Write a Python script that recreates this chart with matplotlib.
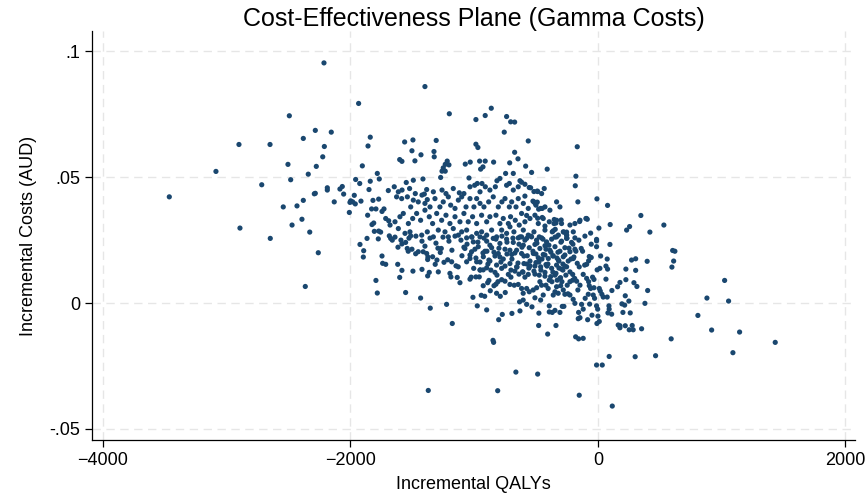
import numpy as np
import matplotlib
matplotlib.use("Agg")
import matplotlib.pyplot as plt

# Incremental QALYs (x) and incremental costs in AUD (y)
west_pts = [
    (-2214, .0954), (-1934, .0793), (-2494, .0744), (-2284, .0686), (-2155, .0679), (-2381, .0654),
    (-2901, .0630), (-2650, .0630), (-2211, .0622), (-1840, .0659), (-1858, .0624), (-2224, .0581),
    (-2505, .0551), (-2276, .0543), (-1904, .0545), (-3087, .0523), (-2341, .0512), (-1783, .0515),
    (-2483, .0490), (-1958, .0491), (-1925, .0475), (-1840, .0484), (-1767, .0493), (-2717, .0470),
    (-3464, .0422), (-2187, .0458), (-2187, .0449), (-2085, .0453), (-2066, .0463), (-1850, .0451),
    (-1694, .0447), (-2284, .0436), (-2292, .0434), (-2055, .0433), (-1969, .0428), (-2381, .0408),
    (-2131, .0402), (-1998, .0406), (-1982, .0402), (-2004, .0400), (-1961, .0394), (-1915, .0405),
    (-1818, .0408), (-1772, .0413), (-2543, .0382), (-2432, .0386), (-1829, .0374), (-1794, .0374),
    (-1745, .0364), (-1729, .0374), (-2009, .0360), (-1861, .0349), (-1715, .0336), (-1691, .0327),
    (-2392, .0333), (-2472, .0310), (-2893, .0298), (-1826, .0312), (-1812, .0318), (-2329, .0282),
    (-1807, .0285), (-1772, .0286), (-1756, .0282), (-2648, .0257), (-1866, .0257), (-1775, .0255),
    (-2260, .0200), (-2365, .0066), (-1923, .0233), (-1893, .0208), (-1896, .0183), (-1745, .0187),
    (-1740, .0158), (-1715, .0154), (-1794, .0090), (-1783, .0040), (-1686, .0267),
]

east_pts = [
    (604, .0209), (622, .0206), (612, .0167), (598, .0143), (272, .0171), (305, .0176), (398, .0166),
    (226, .0135), (305, .0130), (178, .0082), (226, .0093), (291, .0081), (315, .0066), (402, .0050),
    (221, .0029), (250, .0008), (194, -.0003), (216, -.0008), (380, -.0001), (202, -.0037),
    (261, -.0039), (178, -.0090), (221, -.0090), (277, -.0089), (253, -.0106), (285, -.0106),
    (353, -.0102), (592, -.0142), (301, -.0213), (466, -.0209), (1024, .0090), (881, .0020),
    (1056, .0008), (808, -.0049), (919, -.0107), (1145, -.0115), (1433, -.0156), (1091, -.0197),
    (347, .0348), (256, .0304), (232, .0290), (420, .0282), (533, .0310),
]

upper_pts = [
    (-563, .0644), (-167, .0621), (-584, .0544), (-536, .0519), (-410, .0532), (-178, .0504),
    (-183, .0466), (-162, .0402), (-8, .0414), (78, .0388), (99, .0312), (8, .0298), (-59, .0278),
    (-11, .0253), (-1398, .0860), (-1201, .0752), (-986, .0729), (-911, .0745), (-862, .0774),
    (-738, .0741), (-705, .0720), (-673, .0719), (-757, .0679), (-1562, .0640), (-1495, .0648),
    (-1307, .0646), (-986, .0631), (-970, .0618), (-1503, .0605), (-1325, .0602), (-1323, .0581),
    (-1430, .0589), (-1602, .0570), (-1584, .0563), (-1479, .0565), (-1218, .0564), (-1234, .0551),
    (-1204, .0549), (-1250, .0537), (-1260, .0524), (-1234, .0524), (-1072, .0552), (-1032, .0560),
    (-956, .0564), (-911, .0564), (-929, .0541), (-948, .0532), (-843, .0560), (-713, .0557),
    (-673, .0599), (-646, .0573), (-746, .0515), (-684, .0515), (-1271, .0499), (-1414, .0493),
    (-1042, .0497), (-792, .0495), (-816, .0486), (-1646, .0462), (-1549, .0479), (-1492, .0488),
    (-97, .0336), (-86, .0333), (-148, .0324), (-353, .0332), (-339, .0318), (-297, .0330),
    (-428, .0306), (-361, .0287), (-345, .0293), (-275, .0282), (-253, .0282), (-253, .0270),
    (-525, .0405), (-507, .0396), (-490, .0401), (-479, .0373), (-450, .0376), (-576, .0348),
    (-487, .0337), (-450, .0340), (-544, .0458), (-487, .0443), (-434, .0455), (-590, .0425),
    (-630, .0486),
]

lower_pts = [
    (-1618, .0154), (-1602, .0102), (-1584, .0130), (-1554, .0042), (-1495, .0127), (-1433, .0020),
    (-1422, .0134), (-1355, -.0020), (-1376, .0108), (-1290, .0124), (-1223, -.0005), (-1177, -.0081),
    (-1371, -.0347), (-1010, .0023), (-975, -.0011), (-899, -.0027), (-848, -.0148), (-843, -.0156),
    (-810, -.0348), (-802, -.0066), (-773, -.0045), (-695, -.0041), (-663, -.0274), (-630, -.0031),
    (-633, .0005), (-487, -.0282), (-479, -.0089), (-477, -.0040), (-406, -.0123), (-339, -.0089),
    (-393, -.0035), (-369, -.0037), (-347, -.0029), (-288, -.0013), (-275, -.0013), (-180, -.0134),
    (-156, -.0142), (-119, -.0140), (-159, -.0062), (-151, -.0366), (-83, -.0066), (-48, -.0048),
    (-8, -.0081), (11, -.0073), (0, -.0052), (-11, -.0246), (35, -.0246), (91, -.0212), (116, -.0409),
    (164, -.0087), (81, -.0039), (111, -.0044), (89, -.0011), (91, -.0024), (43, .0024), (75, .0024),
    (-132, -.0005), (-119, -.0024), (-67, -.0004),
]

mid_pts = [
    (-1675, .0257), (-1662, .0250), (-1584, .0235), (-1554, .0241), (-1541, .0217), (-1533, .0206),
    (-1473, .0196), (-1452, .0204), (-1513, .0267), (-1412, .0204), (-1384, .0197), (-1374, .0183),
    (-1376, .0173), (-1363, .0122), (-1315, .0154), (-1301, .0171), (-1336, .0184), (-1266, .0217),
    (-1274, .0201), (-1244, .0162), (-1214, .0172), (-1182, .0164), (-1196, .0118), (-1188, .0104),
    (-1147, .0148), (-1129, .0144), (-1137, .0102), (-1115, .0081), (-1099, .0188), (-1061, .0164),
    (-1034, .0095), (-1024, .0103), (-1004, .0138), (-951, .0132), (-927, .0132), (-959, .0104),
    (-986, .0104), (-943, .0031), (-915, .0027), (-927, .0069), (-891, .0081), (-881, .0090),
    (-870, .0049), (-819, .0039), (-789, .0027), (-749, .0042), (-840, .0069), (-824, .0075),
    (-808, .0085), (-778, .0093), (-751, .0087), (-711, .0074), (-676, .0071), (-644, .0074),
    (97, .0233), (159, .0065), (113, .0050), (178, -.0098), (22, .0187), (75, .0175), (65, .0147),
    (78, .0135), (-11, .0247), (-11, .0224), (-54, .0234), (-135, .0217), (-124, .0206), (-70, .0185),
    (-54, .0181), (-75, .0168), (-167, .0158), (-151, .0144), (-107, .0151), (-91, .0154), (-6, .0132),
    (16, .0138), (65, .0095), (-43, .0103), (-32, .0094), (-119, .0114), (-70, .0069), (-59, .0058),
    (-32, .0061), (11, .0058), (19, .0048), (32, .0035), (-38, .0032), (-27, .0019), (-103, .0019),
    (-78, .0035), (-11, -.0011), (-2, -.0024), (-156, -.0037), (-145, -.0058), (-200, .0015),
    (-186, -.0001), (-242, .0037), (-226, .0032), (-393, -.0011), (-307, -.0037), (-533, -.0015),
    (-576, -.0005), (-604, .0012), (-463, .0012), (-509, .0021), (-442, .0032), (-361, .0032),
    (-347, .0045), (-321, .0039), (-280, .0052), (-267, .0035), (-334, .0065), (-301, .0069),
    (-248, .0071), (-226, .0085), (-204, .0091), (-172, .0087), (-145, .0071), (-162, .0052),
    (-91, .0098), (-75, .0085), (-226, .0124), (-204, .0114), (-188, .0098), (-307, .0098),
    (-291, .0085), (-329, .0091), (-393, .0091), (-372, .0085), (-420, .0071), (-402, .0058),
    (-469, .0085), (-455, .0071), (-495, .0061), (-523, .0052), (-576, .0058), (-555, .0045),
    (-604, .0039), (-617, .0058),
]

band_pts = [
    (-1613, .0442), (-1583, .0449), (-1522, .0455), (-1476, .0435), (-1403, .0433), (-1384, .0451),
    (-1330, .0442), (-1260, .0449), (-1228, .0435), (-1169, .0455), (-1120, .0438), (-1083, .0435),
    (-1034, .0462), (-996, .0468), (-975, .0475), (-953, .0442), (-937, .0475), (-910, .0462),
    (-873, .0449), (-829, .0462), (-738, .0468), (-716, .0475), (-684, .0449), (-644, .0462),
    (-617, .0480), (-590, .0472), (-555, .0459), (-517, .0443), (-490, .0445), (-455, .0435),
    (-1627, .0422), (-1586, .0415), (-1540, .0422), (-1513, .0382), (-1492, .0409), (-1452, .0402),
    (-1422, .0429), (-1398, .0396), (-1379, .0411), (-1357, .0382), (-1317, .0415), (-1277, .0382),
    (-1250, .0402), (-1209, .0422), (-1190, .0389), (-1155, .0376), (-1128, .0409), (-1101, .0422),
    (-1066, .0382), (-1034, .0415), (-1002, .0382), (-980, .0415), (-953, .0396), (-921, .0382),
    (-883, .0402), (-846, .0422), (-805, .0382), (-776, .0402), (-751, .0415), (-716, .0382),
    (-697, .0402), (-662, .0382), (-644, .0415), (-603, .0396), (-563, .0376), (-517, .0402),
    (-501, .0389), (-463, .0376), (-428, .0382), (-388, .0369), (-334, .0402), (-307, .0382),
    (-1640, .0323), (-1600, .0343), (-1573, .0356), (-1532, .0316), (-1497, .0336), (-1465, .0356),
    (-1433, .0329), (-1398, .0369), (-1363, .0343), (-1336, .0316), (-1303, .0356), (-1263, .0329),
    (-1228, .0349), (-1196, .0316), (-1155, .0343), (-1115, .0323), (-1083, .0356), (-1048, .0323),
    (-1013, .0343), (-980, .0316), (-940, .0349), (-899, .0323), (-873, .0343), (-824, .0349),
    (-792, .0316), (-765, .0336), (-724, .0316), (-706, .0343), (-668, .0329), (-636, .0310),
    (-617, .0356), (-590, .0323), (-549, .0336), (-509, .0349), (-482, .0316), (-442, .0336),
    (-393, .0323), (-355, .0316), (-334, .0329), (-294, .0316), (-226, .0310), (-186, .0316),
    (-145, .0329), (-92, .0336),
    (-1680, .0310), (-1613, .0296), (-1559, .0277), (-1519, .0283), (-1424, .0270), (-1379, .0283),
    (-1330, .0263), (-1290, .0290), (-1236, .0283), (-1209, .0263), (-1169, .0296), (-1128, .0270),
    (-1101, .0283), (-1061, .0290), (-1021, .0263), (-980, .0277), (-940, .0283), (-899, .0270),
    (-859, .0290), (-819, .0263), (-778, .0290), (-738, .0277), (-711, .0303), (-679, .0283),
    (-630, .0263), (-603, .0290), (-563, .0270), (-517, .0283), (-474, .0263), (-428, .0290),
    (-369, .0283), (-320, .0270), (-280, .0283), (-253, .0270), (-199, .0283),
]

core_pts = [
    (-1640, .0262), (-1592, .0250), (-1527, .0258), (-1471, .0266), (-1422, .0246), (-1357, .0258),
    (-1309, .0238), (-1252, .0262), (-1204, .0246), (-1155, .0266), (-1107, .0250), (-1058, .0234),
    (-1018, .0262), (-970, .0242), (-921, .0258), (-873, .0230), (-824, .0254), (-776, .0266),
    (-735, .0242), (-687, .0258), (-638, .0234), (-590, .0250), (-541, .0266), (-493, .0238),
    (-444, .0254), (-396, .0230), (-347, .0262), (-299, .0242), (-250, .0258), (-202, .0234),
    (-154, .0250), (-105, .0266),
    (-1616, .0222), (-1503, .0214), (-1398, .0226), (-1293, .0218), (-1180, .0210), (-1083, .0222),
    (-994, .0214), (-897, .0206), (-800, .0218), (-711, .0210), (-614, .0222), (-525, .0206),
    (-420, .0214), (-323, .0202), (-234, .0218), (-178, .0206),
    (-1034, .0191), (-986, .0179), (-929, .0199), (-881, .0171), (-832, .0187), (-784, .0163),
    (-735, .0195), (-695, .0175), (-646, .0159), (-598, .0187), (-549, .0167), (-501, .0195),
    (-452, .0175), (-404, .0155), (-364, .0187), (-315, .0167), (-267, .0191), (-218, .0175),
    (-889, .0155), (-792, .0183), (-671, .0199), (-574, .0155), (-477, .0163), (-380, .0202),
    (-283, .0155), (-194, .0183), (-953, .0163), (-840, .0202), (-428, .0191), (-331, .0179),
    (-751, .0147), (-703, .0131), (-654, .0143), (-606, .0123), (-558, .0139), (-509, .0115),
    (-461, .0131), (-412, .0147), (-364, .0123), (-315, .0139), (-267, .0147), (-865, .0131),
    (-816, .0111), (-703, .0103), (-590, .0103), (-509, .0147), (-428, .0107), (-638, .0115),
    (-347, .0111), (-283, .0131),
]

# extra points in the darkest part of the cloud
dense_pts = [
    (-617, .0263), (-576, .0257), (-536, .0263), (-496, .0250), (-455, .0259), (-415, .0243),
    (-374, .0254), (-334, .0263), (-294, .0246), (-253, .0257), (-213, .0241), (-186, .0259),
    (-603, .0230), (-555, .0220), (-509, .0233), (-469, .0217), (-428, .0228), (-388, .0210),
    (-347, .0224), (-307, .0206), (-267, .0220), (-226, .0204), (-186, .0214), (-617, .0197),
    (-571, .0188), (-522, .0197), (-482, .0180), (-442, .0193), (-401, .0177), (-361, .0188),
    (-320, .0171), (-280, .0184), (-240, .0167), (-199, .0177), (-598, .0157), (-549, .0148),
    (-501, .0161), (-463, .0144), (-420, .0153), (-374, .0138), (-334, .0151), (-294, .0135),
    (-253, .0144), (-609, .0124), (-563, .0114), (-517, .0127), (-474, .0111), (-428, .0122),
    (-382, .0105), (-339, .0118), (-302, .0101), (-259, .0111),
    (-1061, .0259), (-1007, .0243), (-953, .0263), (-899, .0246), (-846, .0257), (-792, .0237),
    (-738, .0254), (-684, .0241), (-644, .0259), (-1075, .0217), (-1021, .0204), (-967, .0224),
    (-913, .0206), (-859, .0220), (-805, .0197), (-751, .0214), (-697, .0193), (-657, .0210),
    (-1034, .0177), (-980, .0164), (-926, .0184), (-873, .0167), (-819, .0151), (-765, .0175),
    (-711, .0157), (-657, .0144), (-953, .0131), (-899, .0140), (-832, .0122), (-778, .0138),
    (-724, .0114), (-671, .0127),
]

x_ticks = [-4000, -2000, 0, 2000]
y_ticks = [-0.05, 0, 0.05, 0.1]
y_tick_labels = ["-.05", "0", ".05", ".1"]

pts = np.array(west_pts + east_pts + upper_pts + lower_pts + mid_pts
               + band_pts + core_pts + dense_pts)

plt.rcParams["font.family"] = ["Liberation Sans", "DejaVu Sans"]

fig = plt.figure(figsize=(8.66, 4.95), dpi=100)
ax = fig.add_axes([0.1062, 0.111, 0.881, 0.826])

ax.scatter(pts[:, 0], pts[:, 1], s=14, color="#1a476f", edgecolors="none", zorder=3)

ax.set_xlim(-4089, 2077)
ax.set_ylim(-0.0544, 0.108)
ax.set_xticks(x_ticks)
ax.set_yticks(y_ticks)
ax.set_yticklabels(y_tick_labels)
ax.grid(True, color="#e6e6e6", linestyle=(0, (6, 4)), linewidth=1.0, zorder=0)

for side in ["top", "right"]:
    ax.spines[side].set_visible(False)
for side in ["left", "bottom"]:
    ax.spines[side].set_color("black")
    ax.spines[side].set_linewidth(0.9)
ax.tick_params(axis="both", direction="out", length=5, width=0.9, labelsize=13, colors="black")

ax.set_title("Cost-Effectiveness Plane (Gamma Costs)", fontsize=18, pad=-1)
ax.set_xlabel("Incremental QALYs", fontsize=13, labelpad=5)
ax.set_ylabel("Incremental Costs (AUD)", fontsize=13, labelpad=9)

fig.savefig("out.png", dpi=100)
